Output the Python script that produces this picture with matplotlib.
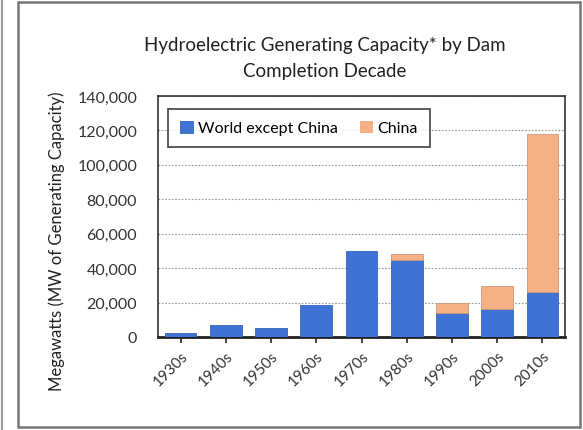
import matplotlib.pyplot as plt
from matplotlib.patches import Rectangle
from matplotlib.lines import Line2D
from matplotlib.ticker import FuncFormatter

# --- Data (MW of generating capacity by dam completion decade) ---
DECADES = ["1930s", "1940s", "1950s", "1960s", "1970s", "1980s", "1990s", "2000s", "2010s"]
WORLD_EXCEPT_CHINA = [2300, 7000, 5200, 18500, 49700, 44800, 13700, 16200, 26300]
CHINA = [0, 0, 0, 0, 0, 3700, 6000, 13500, 91800]

BLUE = "#3f72d4"
PEACH = "#f5b185"
FONT = "Lato"

plt.rcParams["font.family"] = [FONT, "DejaVu Sans"]

fig = plt.figure(figsize=(5.83, 4.31), dpi=100)
ax = fig.add_axes([158 / 583, 1 - 338 / 431, 407 / 583, 241 / 431])

x = range(len(DECADES))
ax.bar(x, WORLD_EXCEPT_CHINA, width=0.7, color=BLUE, edgecolor="#3563b8",
       linewidth=0.6, label="World except China", zorder=3)
# no outline on empty China segments
china_edges = ["#c99a7a" if v > 0 else "none" for v in CHINA]
ax.bar(x, CHINA, width=0.7, bottom=WORLD_EXCEPT_CHINA, color=PEACH,
       edgecolor=china_edges, linewidth=0.6, label="China", zorder=3)

ax.set_xlim(-0.5, len(DECADES) - 0.5)
ax.set_ylim(0, 140000)
ax.set_yticks(range(0, 140001, 20000))
ax.yaxis.set_major_formatter(FuncFormatter(lambda v, _: f"{int(v):,}"))
ax.set_xticks(list(x))
ax.set_xticklabels(DECADES, rotation=45, ha="right", rotation_mode="anchor")
ax.tick_params(axis="x", length=4, width=1.2, color="#222222", labelsize=11,
               pad=4, labelcolor="#333333")
ax.tick_params(axis="y", length=0, labelsize=11.5, pad=15, labelcolor="#333333")
ax.grid(axis="y", linestyle=(0, (1.5, 1.5)), color="#9a9a9a", linewidth=0.8, zorder=0)

for side in ["top", "right", "left"]:
    ax.spines[side].set_color("#333333")
    ax.spines[side].set_linewidth(1.2)
ax.spines["bottom"].set_color("#222222")
ax.spines["bottom"].set_linewidth(2)

ax.set_ylabel("Megawatts (MW of Generating Capacity)", fontsize=12,
              color="#222222")
ax.yaxis.set_label_coords(-0.228, 0.40)

leg = ax.legend(loc="upper left", ncol=2, frameon=True, fancybox=False,
                fontsize=11.5, handlelength=0.8, handleheight=0.8,
                handletextpad=0.3, columnspacing=1.4,
                bbox_to_anchor=(0.005, 0.98), borderpad=0.75)
leg.get_frame().set_edgecolor("#111111")
leg.get_frame().set_linewidth(1.2)

fig.text(325 / 583, 1 - 45 / 431, "Hydroelectric Generating Capacity* by Dam",
         ha="center", va="center", fontsize=13.5, color="#222222")
fig.text(325 / 583, 1 - 72 / 431, "Completion Decade",
         ha="center", va="center", fontsize=13.5, color="#222222")

# outer chart frame and the page edge on the left
fig.patches.append(Rectangle((18 / 583, 3 / 431), 562 / 583, 425 / 431,
                             transform=fig.transFigure, fill=False,
                             edgecolor="#777777", linewidth=1.8))
fig.lines.append(Line2D([1.5 / 583, 1.5 / 583], [0, 1], transform=fig.transFigure,
                        color="#999999", linewidth=1.5))

fig.savefig("out.png", dpi=100)
